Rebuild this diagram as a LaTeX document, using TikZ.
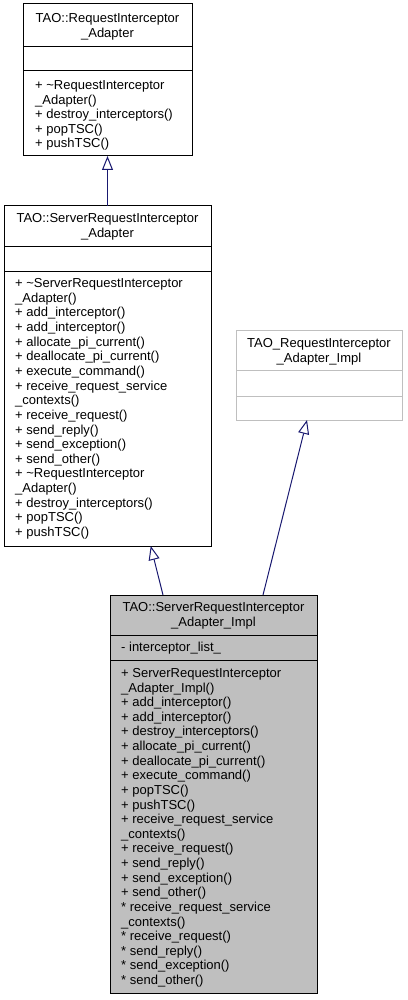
\documentclass[tikz,border=0pt]{standalone}
\usepackage{fontspec}
\setmainfont{Liberation Sans}
\usetikzlibrary{arrows.meta}
\definecolor{edgeblue}{HTML}{191970}
\definecolor{implfill}{HTML}{BFBFBF}
\definecolor{greyline}{HTML}{BFBFBF}
\tikzset{
 classbox/.style={draw=black, line width=1pt, rectangle, inner sep=0pt, outer sep=0pt, anchor=north west},
 sepline/.style={draw=black, line width=1pt},
 txt/.style={anchor=base west, inner sep=0pt, font=\fontsize{13}{14.6}\selectfont},
 ttl/.style={anchor=base, inner sep=0pt, font=\fontsize{13}{14.6}\selectfont},
 inh/.style={draw=edgeblue, line width=1pt, -{Triangle[open, length=14pt, width=11pt, fill=white]}},
}
\begin{document}
\begin{tikzpicture}[x=1pt,y=-1pt]
\useasboundingbox (0,0) rectangle (407,1000);
% ---------- box 1
\node[classbox, minimum width=169pt, minimum height=152pt] (b1) at (23,4) {};
\draw[sepline] (b1.north west) ++(0,43) -- ++(169,0);
\draw[sepline] (b1.north west) ++(0,67) -- ++(169,0);
\path (b1.north) ++(0,18.5) node[ttl] (t1a) {TAO::RequestInterceptor};
\path (b1.north) ++(0,33.5) node[ttl] (t1b) {\_Adapter};
\foreach [count=\i] \t in {+ \textasciitilde RequestInterceptor, \_Adapter(), + destroy\_interceptors(), + popTSC(), + pushTSC()}
  {\node[txt] (m1-\i) at (35,{89.5+14.6*(\i-1)}) {\t};}
% ---------- box 2
\node[classbox, minimum width=207pt, minimum height=340pt] (b2) at (4,206) {};
\draw[sepline] (b2.north west) ++(0,40) -- ++(207,0);
\draw[sepline] (b2.north west) ++(0,65) -- ++(207,0);
\path (b2.north) ++(0,16.5) node[ttl] (t2a) {TAO::ServerRequestInterceptor};
\path (b2.north) ++(0,31.5) node[ttl] (t2b) {\_Adapter};
\foreach [count=\i] \t in {+ \textasciitilde ServerRequestInterceptor, \_Adapter(), + add\_interceptor(), + add\_interceptor(), + allocate\_pi\_current(), + deallocate\_pi\_current(), + execute\_command(), + receive\_request\_service, \_contexts(), + receive\_request(), + send\_reply(), + send\_exception(), + send\_other(), + \textasciitilde RequestInterceptor, \_Adapter(), + destroy\_interceptors(), + popTSC(), + pushTSC()}
  {\node[txt] (m2-\i) at (15,{287.5+14.65*(\i-1)}) {\t};}
% ---------- box 3
\node[classbox, draw=greyline, minimum width=166pt, minimum height=90pt] (b3) at (236,330) {};
\draw[sepline, draw=greyline] (b3.north west) ++(0,40) -- ++(166,0);
\draw[sepline, draw=greyline] (b3.north west) ++(0,66) -- ++(166,0);
\path (b3.north) ++(0,17.5) node[ttl] (t3a) {TAO\_RequestInterceptor};
\path (b3.north) ++(0,32.5) node[ttl] (t3b) {\_Adapter\_Impl};
% ---------- box 4
\node[classbox, fill=implfill, minimum width=207pt, minimum height=398pt] (b4) at (110,595) {};
\draw[sepline] (b4.north west) ++(0,40) -- ++(207,0);
\draw[sepline] (b4.north west) ++(0,65) -- ++(207,0);
\path (b4.north) ++(0,16.5) node[ttl] (t4a) {TAO::ServerRequestInterceptor};
\path (b4.north) ++(0,31.5) node[ttl] (t4b) {\_Adapter\_Impl};
\node[txt] (a4-1) at (121,651.5) {- interceptor\_list\_};
\foreach [count=\i] \t in {+ ServerRequestInterceptor, \_Adapter\_Impl(), + add\_interceptor(), + add\_interceptor(), + destroy\_interceptors(), + allocate\_pi\_current(), + deallocate\_pi\_current(), + execute\_command(), + popTSC(), + pushTSC(), + receive\_request\_service, \_contexts(), + receive\_request(), + send\_reply(), + send\_exception(), + send\_other(), * receive\_request\_service, \_contexts(), * receive\_request(), * send\_reply(), * send\_exception(), * send\_other()}
  {\node[txt] (m4-\i) at (121,{677.5+14.62*(\i-1)}) {\t};}
% ---------- connectors
\draw[inh] (b2.north) -- (b1.south);
\draw[inh] ([xshift=53pt]b4.north west) -- ([xshift=146.7pt]b2.south west);
\draw[inh] ([xshift=153pt]b4.north west) -- ([xshift=71pt]b3.south west);
\end{tikzpicture}
\end{document}
